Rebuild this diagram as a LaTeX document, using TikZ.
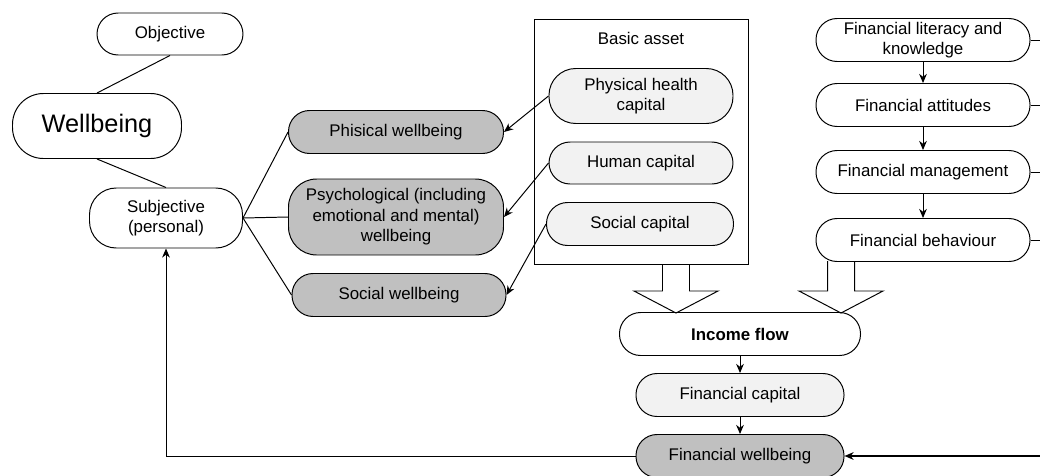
\documentclass[tikz,border=0pt]{standalone}
\usepackage{fontspec}
\setmainfont{Liberation Sans}
\usetikzlibrary{arrows.meta,positioning}
\definecolor{wbgray}{RGB}{192,192,192}
\definecolor{caplight}{RGB}{242,242,242}
\newdimen\px \px=0.025cm
\newcommand{\nf}{\fontsize{12}{14.5}\selectfont}

\begin{document}
\begin{tikzpicture}[x=0.025cm, y=-0.025cm, line width=0.7pt,
  every node/.style={font=\nf, align=center, inner sep=2pt},
  pill/.style={draw, rounded corners=15pt, minimum height=43\px},
  wbbox/.style={pill, fill=wbgray},
  capbox/.style={pill, fill=caplight},
  tip/.style={-{Stealth[length=6.5pt,width=5.5pt]}}]
\useasboundingbox (0,0) rectangle (1040,475);
% ---- block arrow: #1 = centre x, #2 = top y
\newcommand{\blockarrow}[2]{%
  \draw (#1-13.5,#2) -- (#1-13.5,291) -- (#1-42,291) -- (#1,313) -- (#1+42,291) -- (#1+13.5,291) -- (#1+13.5,#2);
}
% ================= wellbeing tree
\node[pill, minimum width=146\px, minimum height=42\px] (obj) at (170,34) {Objective};
\node[pill, minimum width=169\px, minimum height=65\px, rounded corners=22pt, font=\fontsize{18}{20}\selectfont] (wb) at (97,126) {Wellbeing};
\node[pill, minimum width=153\px, minimum height=60\px, rounded corners=19pt] (subj) at (166,218) {Subjective\\(personal)};
\node[wbbox, minimum width=215\px] (phw) at (396,132) {Phisical wellbeing};
\node[wbbox, minimum width=215\px, minimum height=76\px, rounded corners=20pt] (psw) at (396,217)
  {Psychological (including\\emotional and mental)\\wellbeing};
\node[wbbox, minimum width=214\px] (sow) at (399,295) {Social wellbeing};
% ================= basic asset
\node[draw, minimum width=214\px, minimum height=245\px] (ba) at (641,141.5) {};
\node (balab) at (641,38) {Basic asset};
\node[capbox, minimum width=184\px, minimum height=55\px, rounded corners=19pt] (phc) at (641,96) {Physical health\\capital};
\node[capbox, minimum width=184\px, minimum height=42\px] (huc) at (641,163) {Human capital};
\node[capbox, minimum width=187\px] (soc) at (640,224) {Social capital};
% ================= financial column
\node[pill, minimum width=214\px] (flk) at (923,40) {Financial literacy and\\knowledge};
\node[pill, minimum width=214\px] (fat) at (923,105) {Financial attitudes};
\node[pill, minimum width=214\px] (fma) at (923,172) {Financial management};
\node[pill, minimum width=214\px] (fbe) at (923,240) {Financial behaviour};
% ================= income and capital
\node[pill, minimum width=241\px] (inc) at (740,334) {\textbf{Income flow}};
\node[capbox, minimum width=208\px] (fcap) at (740,395) {Financial capital};
\node[wbbox, minimum width=208\px] (fwb) at (740,456) {Financial wellbeing};
\coordinate (edge) at (1040,0);
% ---- links
\draw (obj.south) -- (wb.north);
\draw (wb.south) -- (subj.north);
\foreach \n in {phw,psw,sow} \draw (subj.east) -- (\n.west);
\draw[tip] (phc.west) -- (phw.east);
\draw[tip] (huc.west) -- (psw.east);
\draw[tip] (soc.west) -- (sow.east);
\draw[tip] (flk) -- (fat);
\draw[tip] (fat) -- (fma);
\draw[tip] (fma) -- (fbe);
\draw[tip] (inc) -- (fcap);
\draw[tip] (fcap) -- (fwb);
\foreach \n in {flk,fat,fma,fbe} \draw (\n.east) -- (\n.east -| edge);
\draw[tip, line width=1.2pt] (edge |- fwb.east) -- (fwb.east);
\draw[tip] (fwb.west) -| (subj.south);
% ---- block arrows into income flow
\blockarrow{676}{264}
\blockarrow{841}{261}
\end{tikzpicture}
\end{document}
